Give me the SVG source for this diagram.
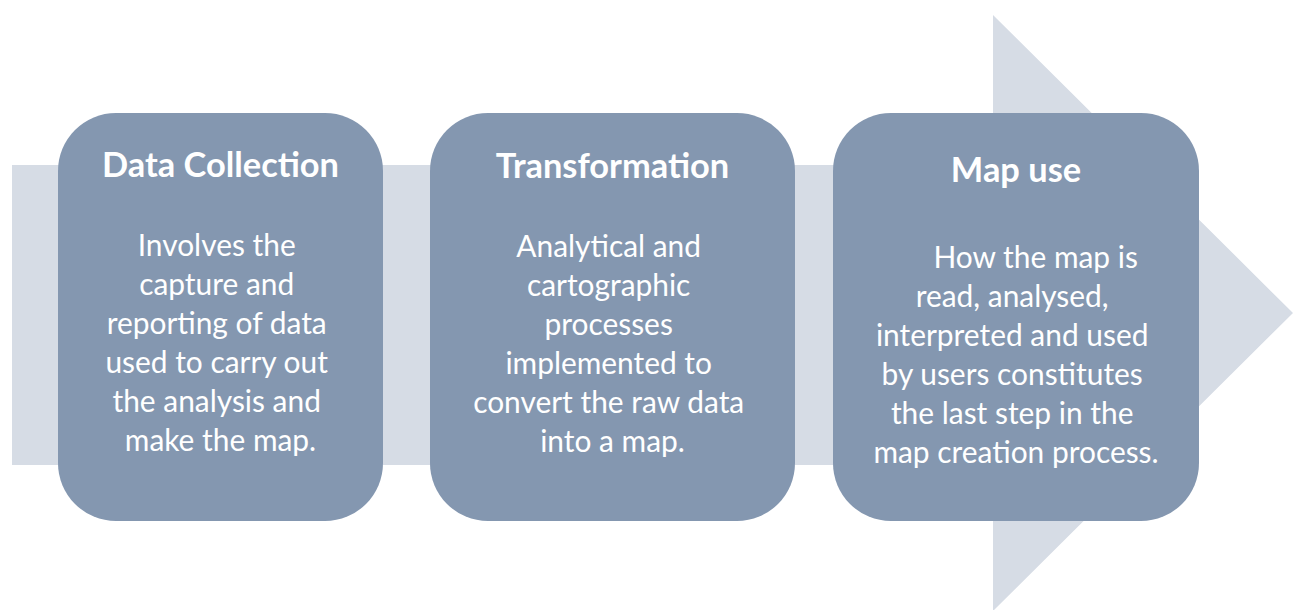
<svg xmlns="http://www.w3.org/2000/svg" width="1300" height="610" viewBox="0 0 1300 610">
  <style>
    .band { fill: #D6DCE5; }
    .card { fill: #8497B0; }
    .title { font-family: Lato, "Liberation Sans", sans-serif; font-weight: bold; font-size: 34.4px; fill: #FFFFFF; text-anchor: middle; }
    .body { font-family: Lato, "Liberation Sans", sans-serif; font-size: 29.9px; fill: #FFFFFF; text-anchor: middle; }
  </style>
  <rect width="1300" height="610" fill="#FFFFFF"/>
  <!-- background process arrow -->
  <g id="connectors">
    <path class="band" d="M12,165 H993 V15 L1293,313 L993,611 V465 H12 Z"/>
  </g>
  <g id="step-data-collection">
    <rect class="card" x="58" y="113" width="325" height="408" rx="58" ry="58"/>
    <text class="title" x="220.5" y="177">Data Collection</text>
    <text class="body">
      <tspan x="220.5" y="256">Involves the</tspan>
      <tspan x="220.5" y="295">capture and</tspan>
      <tspan x="220.5" y="334">reporting of data</tspan>
      <tspan x="220.5" y="373">used to carry out</tspan>
      <tspan x="220.5" y="412">the analysis and</tspan>
      <tspan x="220.5" y="451">make the map.</tspan>
    </text>
  </g>
  <g id="step-transformation">
    <rect class="card" x="430" y="113" width="365" height="408" rx="58" ry="58"/>
    <text class="title" x="612.5" y="178">Transformation</text>
    <text class="body">
      <tspan x="612.5" y="257">Analytical and</tspan>
      <tspan x="612.5" y="296">cartographic</tspan>
      <tspan x="612.5" y="335">processes</tspan>
      <tspan x="612.5" y="374">implemented to</tspan>
      <tspan x="612.5" y="413">convert the raw data</tspan>
      <tspan x="612.5" y="452">into a map.</tspan>
    </text>
  </g>
  <g id="step-map-use">
    <rect class="card" x="833" y="113" width="366" height="408" rx="58" ry="58"/>
    <text class="title" x="1016" y="182">Map use</text>
    <text class="body">
      <tspan x="1039.5" y="268">How the map is</tspan>
      <tspan x="1016" y="307">read, analysed,</tspan>
      <tspan x="1016" y="346">interpreted and used</tspan>
      <tspan x="1016" y="385">by users constitutes</tspan>
      <tspan x="1016" y="424">the last step in the</tspan>
      <tspan x="1016" y="463">map creation process.</tspan>
    </text>
  </g>
</svg>
